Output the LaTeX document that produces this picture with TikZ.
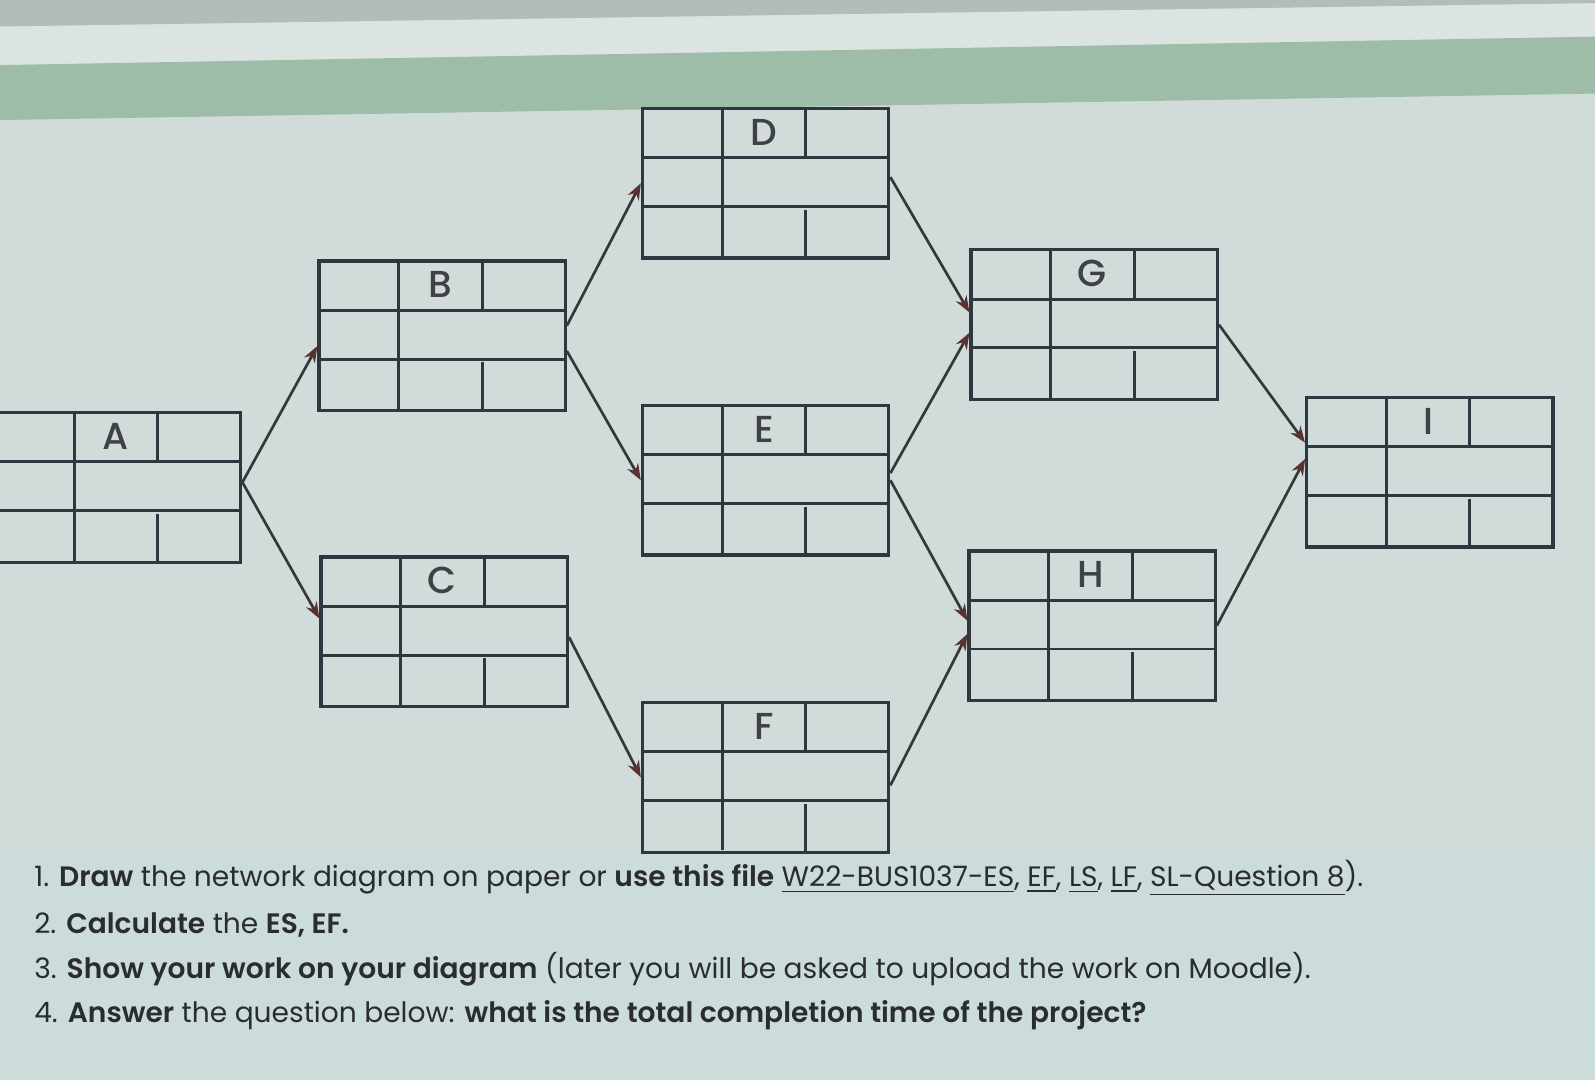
\documentclass[tikz,border=0pt]{standalone}
\usepackage{fontspec}
\setmainfont{Poppins}[BoldFont={Poppins SemiBold}]
\newfontfamily\boxfont{Poppins Medium}
\usetikzlibrary{arrows.meta,calc}

\definecolor{wall}{HTML}{D1DCDA}
\definecolor{strip}{HTML}{DCE4E2}
\definecolor{band}{HTML}{9DBDA8}
\definecolor{topgray}{HTML}{B3BCB7}
\definecolor{lowpanel}{HTML}{CCDCDB}
\definecolor{gridc}{HTML}{2E3640}
\definecolor{ink}{HTML}{2A2C2F}
\definecolor{head}{HTML}{5A3232}

\tikzset{
  act/.style={draw=gridc, line width=0.9pt, minimum width=2.42cm, minimum height=1.47cm, inner sep=0pt},
  cell/.style={draw=gridc, line width=0.8pt},
  lbl/.style={text=ink!90, font=\boxfont\fontsize{10.5}{10.5}\selectfont},
  link/.style={draw=ink!95, line width=0.75pt, -{Stealth[length=0.16cm,width=0.12cm,color=head]}},
  txt/.style={anchor=base west, inner sep=0pt, text=ink, font=\fontsize{7.85}{8}\selectfont}
}

% one activity box: name, x, y (top left), label
\newcommand{\actbox}[4]{%
  \node[act, anchor=north west] (#1) at (#2,#3) {};
  \draw[cell] (#1.north west) ++(0,50) -- ++(242,0)
              (#1.north west) ++(0,98) -- ++(242,0)
              (#1.north west) ++(80,0) -- ++(0,147)
              (#1.north west) ++(162,0) -- ++(0,50)
              (#1.south west) ++(162,0) -- ++(0,-49);
  \node[lbl] (#1-name) at ($(#1.north west)+(121,25)$) {#4};
}

\begin{document}
\begin{tikzpicture}[x=0.01cm, y=-0.01cm]
  \useasboundingbox (0,0) rectangle (1568,1062);
  \clip (0,0) rectangle (1568,1062);
  % background
  \fill[wall] (0,0) rectangle (1568,1062);
  \fill[strip] (0,26) -- (1568,3) -- (1568,36) -- (0,64) -- cycle;
  \fill[topgray] (0,0) -- (1568,0) -- (1568,3) -- (0,26) -- cycle;
  \fill[band] (0,64) -- (1568,36) -- (1568,92) -- (0,118) -- cycle;
  \fill[lowpanel] (0,836) rectangle (1568,1062);

  % boxes
  \actbox{A}{-7}{404}{A}
  \actbox{B}{312}{255}{B}
  \actbox{C}{314}{546}{C}
  \actbox{D}{630}{105}{D}
  \actbox{E}{630}{397}{E}
  \actbox{F}{630}{689}{F}
  \actbox{G}{953}{244}{G}
  \actbox{H}{951}{540}{H}
  \actbox{I}{1283}{389}{I}

  % links
  \draw[link] ($(A.east)+(0,-5)$) -- ($(B.west)+(0,10)$);
  \draw[link] ($(A.east)+(0,-5)$) -- ($(C.west)+(0,-13)$);
  \draw[link] ($(B.east)+(0,-10)$) -- (D.west);
  \draw[link] ($(B.east)+(0,15)$) -- (E.west);
  \draw[link] ($(C.east)+(0,5)$) -- (F.west);
  \draw[link] ($(D.east)+(0,-6)$) -- ($(G.west)+(0,-12)$);
  \draw[link] ($(E.east)+(0,-7)$) -- ($(G.west)+(0,8)$);
  \draw[link] (E.east) -- ($(H.west)+(0,-5)$);
  \draw[link] ($(F.east)+(0,8)$) -- ($(H.west)+(0,8)$);
  \draw[link] (G.east) -- ($(I.west)+(0,-29)$);
  \draw[link] (H.east) -- ($(I.west)+(0,-13)$);

  % questions
  \node[txt] (q1) at (33,871) {1. \textbf{Draw} the network diagram on paper or \textbf{use this file} \underline{W22-BUS1037-ES}, \underline{EF}, \underline{LS}, \underline{LF}, \underline{SL-Question 8}).};
  \node[txt] (q2) at (33,918) {2. \textbf{Calculate} the \textbf{ES, EF.}};
  \node[txt] (q3) at (33,962) {3. \textbf{Show your work on your diagram} (later you will be asked to upload the work on Moodle).};
  \node[txt] (q4) at (33,1005) {4. \textbf{Answer} the question below: \textbf{what is the total completion time of the project?}};
\end{tikzpicture}
\end{document}
